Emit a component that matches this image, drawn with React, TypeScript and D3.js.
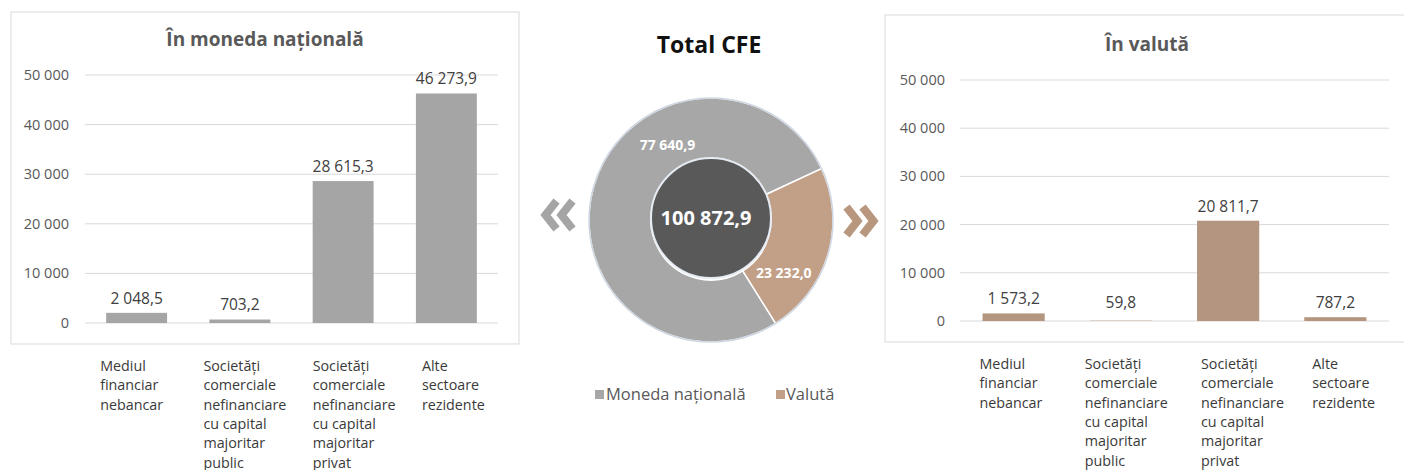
import React from "react";
import * as d3 from "d3";

const categories = [
  "Mediul financiar nebancar",
  "Societăți comerciale nefinanciare cu capital majoritar public",
  "Societăți comerciale nefinanciare cu capital majoritar privat",
  "Alte sectoare rezidente",
];
const categoryLines = [
  ["Mediul", "financiar", "nebancar"],
  ["Societăți", "comerciale", "nefinanciare", "cu capital", "majoritar", "public"],
  ["Societăți", "comerciale", "nefinanciare", "cu capital", "majoritar", "privat"],
  ["Alte", "sectoare", "rezidente"],
];
const nationalValues = [2048.5, 703.2, 28615.3, 46273.9];
const foreignValues = [1573.2, 59.8, 20811.7, 787.2];
const yTicks = [0, 10000, 20000, 30000, 40000, 50000];
const donutLabels = ["Moneda națională", "Valută"];
const donutValues = [77640.9, 23232.0];
const donutTotal = 100872.9;

const GRAY = "#a5a5a5";
const BROWN = "#b49680";
const DONUT_GRAY = "#a7a7a7";
const DONUT_BROWN = "#c2a088";
const DARK = "#595959";
const FONT = "'Open Sans', sans-serif";

const loc = d3.formatLocale({ decimal: ",", thousands: " ", grouping: [3], currency: ["", ""] });
const fmtTick = loc.format(",");
const fmtVal = loc.format(",.1f");

type PanelProps = {
  box: [number, number, number, number];
  title: string;
  titleX: number;
  titleY: number;
  xRange: [number, number];
  yRange: [number, number];
  padInner: number;
  tickX: number;
  values: number[];
  color: string;
  labelOffsets: number[];
  catY: number;
};

function Panel(p: PanelProps) {
  const x = d3.scaleBand<string>().domain(categories).range(p.xRange).paddingInner(p.padInner).paddingOuter(p.padInner / 2);
  const y = d3.scaleLinear().domain([0, 50000]).range(p.yRange);
  const [bx, by, bw, bh] = p.box;
  return (
    <g>
      <rect x={bx} y={by} width={bw} height={bh} fill="#fff" stroke="#d9d9d9" strokeWidth={1} />
      <text x={p.titleX} y={p.titleY} textAnchor="middle" fontFamily={FONT} fontWeight={700} fontSize={19} fill={DARK}>
        {p.title}
      </text>
      {yTicks.map((t) => (
        <g key={t}>
          <line x1={p.xRange[0]} x2={p.xRange[1]} y1={y(t)} y2={y(t)} stroke="#d9d9d9" strokeWidth={1} />
          <text x={p.tickX} y={y(t) + 5} textAnchor="end" fontFamily={FONT} fontSize={14.5} fill={DARK}>
            {fmtTick(t)}
          </text>
        </g>
      ))}
      {categories.map((c, i) => (
        <g key={c}>
          <rect x={x(c)} y={y(p.values[i])} width={x.bandwidth()} height={y(0) - y(p.values[i])} fill={p.color} />
          <text
            x={(x(c) as number) + x.bandwidth() / 2}
            y={Math.min(y(p.values[i]) - 9, y(0) - 13)}
            textAnchor="middle"
            fontFamily={FONT}
            fontSize={15.5}
            fill="#404040"
          >
            {fmtVal(p.values[i])}
          </text>
          <text fontFamily={FONT} fontSize={14.3} fill="#3a3a3a">
            {categoryLines[i].map((l, j) => (
              <tspan key={j} x={(x(c) as number) + p.labelOffsets[i]} y={p.catY + j * 19.3}>
                {l}
              </tspan>
            ))}
          </text>
        </g>
      ))}
    </g>
  );
}

function Chevron({ cx, cy, dir, color }: { cx: number; cy: number; dir: number; color: string }) {
  const w = 11;
  const h = 14;
  const gap = 16;
  const paths = [-gap / 2, gap / 2].map((o) => {
    const tipX = cx + o + (dir * w) / 2;
    const backX = cx + o - (dir * w) / 2;
    return `M${backX},${cy - h} L${tipX},${cy} L${backX},${cy + h}`;
  });
  return (
    <g>
      {paths.map((d, i) => (
        <path key={i} d={d} fill="none" stroke={color} strokeWidth={8} strokeLinejoin="miter" strokeLinecap="butt" />
      ))}
    </g>
  );
}

function Donut() {
  const cx = 711;
  const cy = 220;
  const rOuter = 122;
  const rInner = 60;
  const start = (148 * Math.PI) / 180;
  const pie = d3.pie<number>().sort(null).startAngle(start).endAngle(start + 2 * Math.PI);
  const arcs = pie(donutValues);
  const arc = d3.arc<d3.PieArcDatum<number>>().innerRadius(rInner).outerRadius(rOuter);
  const colors = [DONUT_GRAY, DONUT_BROWN];
  const labelPos = [
    { a: -30, r: 87 },
    { a: 126, r: 90 },
  ];
  return (
    <g>
      <text x={709} y={53} textAnchor="middle" fontFamily={FONT} fontWeight={700} fontSize={23} fill="#111">
        Total CFE
      </text>
      <g transform={`translate(${cx},${cy})`}>
        {arcs.map((a, i) => (
          <path key={i} d={arc(a) as string} fill={colors[i]} stroke="#fff" strokeWidth={1.5} />
        ))}
        <circle r={rOuter} fill="none" stroke="#cdd6e2" strokeWidth={1.5} />
        <circle r={rInner} cy={-2} fill={DARK} stroke="#e6ecf3" strokeWidth={2} />
        <text x={-5} y={5} textAnchor="middle" fontFamily={FONT} fontWeight={700} fontSize={20} fill="#fff">
          {fmtVal(donutTotal)}
        </text>
        {donutValues.map((v, i) => {
          const ang = (labelPos[i].a * Math.PI) / 180;
          return (
            <text
              key={i}
              x={Math.sin(ang) * labelPos[i].r}
              y={-Math.cos(ang) * labelPos[i].r + 5}
              textAnchor="middle"
              fontFamily={FONT}
              fontWeight={700}
              fontSize={14}
              fill="#fff"
            >
              {fmtVal(v)}
            </text>
          );
        })}
      </g>
      <Chevron cx={559} cy={215} dir={-1} color="#a5a5a5" />
      <Chevron cx={860} cy={221} dir={1} color="#b8977e" />
      <g fontFamily={FONT} fontSize={16.5} fill={DARK}>
        <rect x={595} y={390} width={9} height={9} fill={DONUT_GRAY} />
        <text x={606} y={400}>{donutLabels[0]}</text>
        <rect x={776} y={390} width={9} height={9} fill={DONUT_BROWN} />
        <text x={786} y={400}>{donutLabels[1]}</text>
      </g>
    </g>
  );
}

export default function App() {
  return (
    <svg width={1404} height={470} style={{ position: "absolute", left: 0, top: 0, background: "#fff" }}>
      <rect width={1404} height={470} fill="#fff" />
      <Panel
        box={[11, 12, 508, 332]}
        title="În moneda națională"
        titleX={265}
        titleY={46}
        xRange={[85, 498]}
        yRange={[323, 75]}
        padInner={0.41}
        tickX={69}
        values={nationalValues}
        color={GRAY}
        labelOffsets={[-6, -6, 0, 6]}
        catY={371}
      />
      <Panel
        box={[885, 15, 530, 327]}
        title="În valută"
        titleX={1147}
        titleY={51}
        xRange={[960, 1389]}
        yRange={[321, 80]}
        padInner={0.42}
        tickX={945}
        values={foreignValues}
        color={BROWN}
        labelOffsets={[-3, -5, 4, 8]}
        catY={369}
      />
      <Donut />
    </svg>
  );
}
